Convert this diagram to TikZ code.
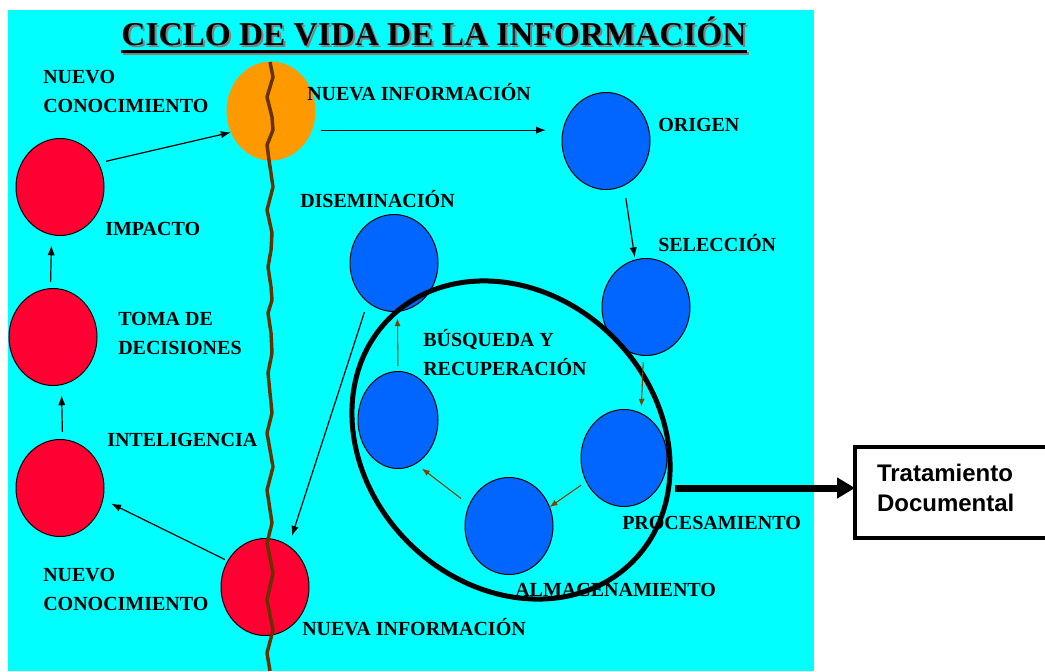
\documentclass[tikz,border=0pt]{standalone}
\usepackage{fontspec}
\setmainfont{Liberation Serif}
\newfontfamily\arialf{Liberation Sans}
\usetikzlibrary{arrows.meta,shapes.geometric}
\definecolor{bgcyan}{RGB}{0,255,255}
\definecolor{cred}{RGB}{255,0,51}
\definecolor{cblue}{RGB}{0,102,255}
\definecolor{corange}{RGB}{255,153,0}
\definecolor{wavebrown}{RGB}{102,51,0}
\definecolor{arrbrown}{RGB}{128,64,0}
\begin{document}
\begin{tikzpicture}[x=0.75pt,y=-0.75pt,
  circ/.style={ellipse, draw=black, line width=0.75pt, inner sep=0pt, outer sep=0pt, minimum width=66pt, minimum height=72.75pt},
  redc/.style={circ, fill=cred},
  bluec/.style={circ, fill=cblue},
  lbl/.style={font=\bfseries\fontsize{15}{21.5}\selectfont, inner sep=0pt, anchor=base west, align=left},
  arr/.style={-{Latex[length=7.5pt,width=5.5pt]}, line width=0.9pt, black},
  barr/.style={-{Latex[length=6pt,width=4.5pt]}, line width=0.8pt, arrbrown},
]
\useasboundingbox (0,0) rectangle (1045,671);
\fill[white] (0,0) rectangle (1045,671);
\fill[bgcyan] (8,10) rectangle (814,671);

% title with shadow
\node[font=\bfseries\fontsize{25}{30}\selectfont, text=gray, anchor=base, inner sep=0pt] (titles) at (436,47) {CICLO DE VIDA DE LA INFORMACIÓN};
\draw[gray, line width=2.25pt] ([yshift=-4.5pt]titles.base west) -- ([yshift=-4.5pt]titles.base east);
\node[font=\bfseries\fontsize{25}{30}\selectfont, anchor=base, inner sep=0pt] (title) at (434,45) {CICLO DE VIDA DE LA INFORMACIÓN};
\draw[black, line width=2.25pt] ([yshift=-4.5pt]title.base west) -- ([yshift=-4.5pt]title.base east);

% circles
\node[circ, draw=none, fill=corange, minimum width=66.75pt, minimum height=74.25pt] (ori) at (271,111) {};
\node[redc] (imp) at (60,187) {};
\node[redc] (toma) at (53,337) {};
\node[redc] (intel) at (60,488) {};
\node[redc] (nred) at (265,587) {};
\node[bluec] (origen) at (606,141) {};
\node[bluec] (dis) at (394,263) {};
\node[bluec] (sel) at (646,307) {};
\node[bluec, minimum width=60pt] (bus) at (398,420) {};
\node[bluec, minimum width=64.5pt] (proc) at (624,458) {};
\node[bluec] (alm) at (509,526) {};

% wavy line
\draw[wavebrown, line width=2.6pt, line join=round]
 (270,62) -- (273,77) -- (267,97) -- (272,117) -- (273,130) -- (267,145) -- (269,160)
 -- (273,187) -- (267,210) -- (272,233) -- (271,250) -- (268,267) -- (271,287) -- (272,300)
 -- (268,313) -- (271,333) -- (272,353) -- (268,373) -- (270,393) -- (272,413) -- (267,433)
 -- (273,467) -- (267,490) -- (272,523) -- (267,543) -- (273,573) -- (267,600) -- (273,630)
 -- (267,653) -- (270,671);

% big ellipse
\node[draw, line width=3.75pt, ellipse, minimum width=258pt, minimum height=217.5pt, rotate=-45, inner sep=0pt] (cycle) at (511,440) {};

% box
\node[draw, line width=3pt, minimum width=150pt, minimum height=68pt, anchor=north west, inner xsep=16.5pt, inner ysep=0pt, outer sep=0pt, text width=117pt, align=left, text height=25.5pt, text depth=42.5pt, font=\arialf\bfseries\fontsize{18}{22.5}\selectfont] (tt) at (855,447) {Tratamiento\\Documental};

% arrows
\draw[arr, shorten <=6pt] (imp.32) -- (ori.208);
\draw[arr, shorten <=6.75pt, shorten >=12pt] (ori.-25) -- (ori.-25 -| origen.west);
\draw[arr, shorten <=9.75pt, shorten >=2pt] (origen.-68.6) -- (sel.103.5);
\draw[barr, shorten <=5pt, shorten >=5pt] (sel.-93) -- (proc.69.6);
\draw[barr, shorten <=4.8pt] (proc.212) -- (alm.25);
\draw[barr, shorten <=7.9pt, shorten >=5.9pt] (alm.152) -- (bus.-68.6);
\draw[barr, shorten <=4pt, shorten >=5pt] (bus.90) -- (dis.-86);
\draw[arr, shorten <=8pt, shorten >=8pt] (dis.236) -- (nred.60);
\draw[arr, shorten <=2.5pt, shorten >=7pt] (nred.145) -- (intel.-15);
\draw[arr, shorten <=5.7pt, shorten >=8pt] (intel.87) -- (toma.-80);
\draw[arr, shorten <=5pt, shorten >=8pt] (toma.93) -- (imp.-100);
\coordinate (exitp) at (675,488);
\draw[line width=5.25pt, -{Triangle[length=13.5pt,width=15pt]}] (exitp) -- (exitp -| tt.west);

% labels (base = baseline of last line)
\node[lbl] (l1) at (43,112) {NUEVO\\CONOCIMIENTO};
\node[lbl] (l2) at (307,100) {NUEVA INFORMACIÓN};
\node[lbl] (l3) at (658,131) {ORIGEN};
\node[lbl] (l4) at (105,235) {IMPACTO};
\node[lbl] (l5) at (300,207) {DISEMINACIÓN};
\node[lbl] (l6) at (658,251) {SELECCIÓN};
\node[lbl] (l7) at (118,354) {TOMA DE\\DECISIONES};
\node[lbl] (l8) at (423,375) {BÚSQUEDA Y\\RECUPERACIÓN};
\node[lbl] (l9) at (107,446) {INTELIGENCIA};
\node[lbl] (l10) at (622,529) {PROCESAMIENTO};
\node[lbl] (l11) at (515,596) {ALMACENAMIENTO};
\node[lbl] (l12) at (43,610) {NUEVO\\CONOCIMIENTO};
\node[lbl] (l13) at (302,635) {NUEVA INFORMACIÓN};
\end{tikzpicture}
\end{document}
